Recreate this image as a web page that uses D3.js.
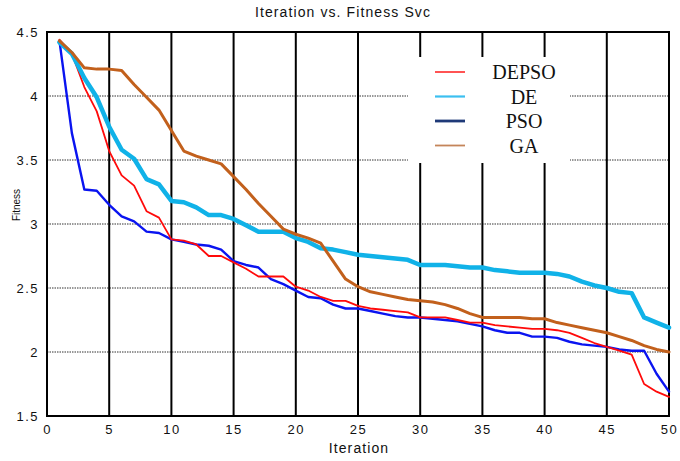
<!DOCTYPE html>
<html>
<head>
<meta charset="utf-8">
<script src="https://cdn.jsdelivr.net/npm/d3@7"></script>
<style>
  body { margin: 0; background: #fff; }
  text { font-family: "Liberation Sans", Arial, sans-serif; }
</style>
</head>
<body>
<svg width="680" height="461"></svg>
<script>
let svg = d3.select("svg"),
 width = +svg.attr("width"),
 height = +svg.attr("height");

// data
let iterations = d3.range(1, 51);
let xTicks = [0, 5, 10, 15, 20, 25, 30, 35, 40, 45, 50];
let yTicks = [1.5, 2, 2.5, 3, 3.5, 4, 4.5];

let depso = [4.44, 4.33, 4.07, 3.88, 3.57, 3.38, 3.30, 3.10, 3.05, 2.88,
             2.87, 2.84, 2.75, 2.75, 2.70, 2.65, 2.59, 2.59, 2.59, 2.51,
             2.48, 2.43, 2.40, 2.40, 2.36, 2.34, 2.33, 2.32, 2.31, 2.27,
             2.27, 2.27, 2.25, 2.23, 2.23, 2.21, 2.20, 2.19, 2.18, 2.18,
             2.17, 2.15, 2.11, 2.07, 2.04, 2.01, 1.98, 1.75, 1.69, 1.65];
let de = [4.42, 4.33, 4.14, 3.99, 3.76, 3.58, 3.51, 3.35, 3.31, 3.18,
          3.17, 3.13, 3.07, 3.07, 3.04, 2.99, 2.94, 2.94, 2.94, 2.89,
          2.86, 2.81, 2.80, 2.78, 2.76, 2.75, 2.74, 2.73, 2.72, 2.68,
          2.68, 2.68, 2.67, 2.66, 2.66, 2.64, 2.63, 2.62, 2.62, 2.62,
          2.61, 2.59, 2.55, 2.52, 2.50, 2.47, 2.46, 2.27, 2.23, 2.19];
let pso = [4.43, 3.71, 3.27, 3.26, 3.15, 3.06, 3.02, 2.94, 2.93, 2.88,
           2.86, 2.84, 2.83, 2.80, 2.71, 2.68, 2.66, 2.57, 2.53, 2.48,
           2.43, 2.42, 2.37, 2.34, 2.34, 2.32, 2.30, 2.28, 2.27, 2.27,
           2.26, 2.25, 2.24, 2.22, 2.20, 2.17, 2.15, 2.15, 2.12, 2.12,
           2.11, 2.08, 2.06, 2.05, 2.04, 2.02, 2.01, 2.01, 1.83, 1.69];
let ga = [4.43, 4.34, 4.22, 4.21, 4.21, 4.20, 4.09, 3.99, 3.89, 3.73,
          3.57, 3.53, 3.50, 3.47, 3.37, 3.27, 3.16, 3.06, 2.96, 2.92,
          2.89, 2.85, 2.71, 2.57, 2.51, 2.47, 2.45, 2.43, 2.41, 2.40,
          2.39, 2.37, 2.34, 2.30, 2.27, 2.27, 2.27, 2.27, 2.26, 2.26,
          2.23, 2.21, 2.19, 2.17, 2.15, 2.12, 2.09, 2.05, 2.02, 2.00];

let seriesNames = ["DEPSO", "DE", "PSO", "GA"];
let seriesValues = [depso, de, pso, ga];

let lineColor = {DEPSO: "#ff0a0a", DE: "#10b2e8", PSO: "#0a14f0", GA: "#c2601c"};
let lineWidth = {DEPSO: 1.8, DE: 4.5, PSO: 2.4, GA: 3};
let keyColor = {DEPSO: "#ff1a1a", DE: "#3cbff0", PSO: "#1f3a78", GA: "#c4855a"};
let keyWidth = {DEPSO: 1.5, DE: 2.2, PSO: 2.8, GA: 1.8};

let margin = {top: 32, right: 11, bottom: 45, left: 47};

let x = d3.scaleLinear().domain([0, 50]).range([margin.left, width - margin.right]);
let y = d3.scaleLinear().domain([1.5, 4.5]).range([height - margin.bottom, margin.top]);

// horizontal dotted grid
svg.append("g")
    .selectAll("line")
    .data(yTicks.slice(1, -1))
    .enter().append("line")
    .attr("x1", x(0)).attr("x2", x(50))
    .attr("y1", d => y(d)).attr("y2", d => y(d))
    .attr("stroke", "#333")
    .attr("stroke-width", 1)
    .attr("stroke-dasharray", "1.5,1");

// vertical solid grid
svg.append("g")
    .selectAll("line")
    .data(xTicks.slice(1, -1))
    .enter().append("line")
    .attr("x1", d => x(d)).attr("x2", d => x(d))
    .attr("y1", y(1.5)).attr("y2", y(4.5))
    .attr("stroke", "#000")
    .attr("stroke-width", 2);

// legend background hides the grid
svg.append("rect")
    .attr("x", 408).attr("y", 57)
    .attr("width", 162).attr("height", 106)
    .attr("fill", "#fff");

// frame
svg.append("rect")
    .attr("x", x(0)).attr("y", y(4.5))
    .attr("width", x(50) - x(0)).attr("height", y(1.5) - y(4.5))
    .attr("fill", "none")
    .attr("stroke", "#000")
    .attr("stroke-width", 2);

// axes (labels only, the grid does the ticks)
let xAxis = svg.append("g")
    .attr("transform", "translate(0," + y(1.5) + ")")
    .call(d3.axisBottom(x).tickValues(xTicks).tickSize(0).tickPadding(9));
let yAxis = svg.append("g")
    .attr("transform", "translate(" + x(0) + ",0)")
    .call(d3.axisLeft(y).tickValues(yTicks).tickSize(0).tickPadding(8)
        .tickFormat(d3.format("")));
[xAxis, yAxis].forEach(function(a) {
    a.select(".domain").remove();
    a.selectAll("text")
        .attr("font-family", "Liberation Sans, Arial, sans-serif")
        .attr("font-size", 13)
        .attr("letter-spacing", "1.5px")
        .attr("fill", "#111");
});

// lines, drawn back to front
let line = d3.line()
    .x((d, i) => x(iterations[i]))
    .y(d => y(d));

let drawOrder = ["PSO", "DEPSO", "DE", "GA"];
svg.append("g")
    .selectAll("path")
    .data(drawOrder)
    .enter().append("path")
    .attr("d", d => line(seriesValues[seriesNames.indexOf(d)]))
    .attr("fill", "none")
    .attr("stroke", d => lineColor[d])
    .attr("stroke-width", d => lineWidth[d])
    .attr("stroke-linejoin", "round")
    .attr("stroke-linecap", "round");

// legend
let key = svg.append("g")
    .selectAll("g")
    .data(seriesNames)
    .enter().append("g")
    .attr("transform", (d, i) => "translate(0," + (72 + i * 24.5) + ")");
key.append("line")
    .attr("x1", 435).attr("x2", 465)
    .attr("y1", 0).attr("y2", 0)
    .attr("stroke", d => keyColor[d])
    .attr("stroke-width", d => keyWidth[d]);
key.append("text")
    .attr("x", 524).attr("y", 7)
    .attr("text-anchor", "middle")
    .style("font-family", "'Liberation Serif', 'Times New Roman', serif")
    .attr("font-size", 20)
    .attr("fill", "#111")
    .text(d => d);

// titles
svg.append("text")
    .attr("x", 343).attr("y", 17)
    .attr("text-anchor", "middle")
    .attr("font-size", 14)
    .attr("letter-spacing", "1.1px")
    .attr("fill", "#111")
    .text("Iteration vs. Fitness Svc");

svg.append("text")
    .attr("x", 359).attr("y", 453)
    .attr("text-anchor", "middle")
    .attr("font-size", 14)
    .attr("letter-spacing", "1.1px")
    .attr("fill", "#111")
    .text("Iteration");

svg.append("text")
    .attr("transform", "translate(20,205) rotate(-90)")
    .attr("text-anchor", "middle")
    .attr("font-size", 10)
    .attr("fill", "#111")
    .text("Fitness");
</script>
</body>
</html>
